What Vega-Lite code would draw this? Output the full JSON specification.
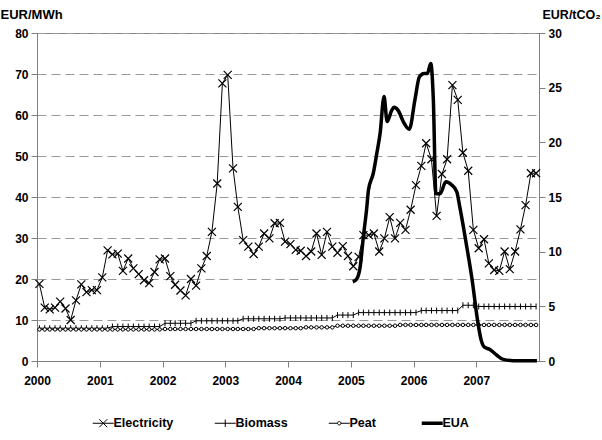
{
  "$schema": "https://vega.github.io/schema/vega-lite/v6.json",
  "width": 502,
  "height": 328,
  "autosize": "none",
  "padding": {"left": 37, "top": 33, "right": 63, "bottom": 79},
  "background": "white",
  "config": {
    "font": "Liberation Sans",
    "view": {"stroke": "#808080", "strokeWidth": 1},
    "axis": {
      "labelFont": "Liberation Sans", "labelFontWeight": "bold", "labelFontSize": 12, "labelColor": "black",
      "titleFont": "Liberation Sans", "titleFontWeight": "bold", "titleFontSize": 13, "titleColor": "black",
      "domainColor": "#808080", "tickColor": "#808080", "tickSize": 6
    }
  },
  "datasets": {
    "monthly": [
      {"date": "2000-01-15", "Electricity": 18.8, "Biomass": 8.0, "Peat": 7.7},
      {"date": "2000-02-15", "Electricity": 13.0, "Biomass": 8.0, "Peat": 7.7},
      {"date": "2000-03-15", "Electricity": 12.6, "Biomass": 8.0, "Peat": 7.7},
      {"date": "2000-04-15", "Electricity": 13.0, "Biomass": 8.0, "Peat": 7.7},
      {"date": "2000-05-15", "Electricity": 14.5, "Biomass": 8.0, "Peat": 7.7},
      {"date": "2000-06-15", "Electricity": 12.8, "Biomass": 8.0, "Peat": 7.7},
      {"date": "2000-07-15", "Electricity": 10.0, "Biomass": 8.0, "Peat": 7.7},
      {"date": "2000-08-15", "Electricity": 14.8, "Biomass": 8.0, "Peat": 7.7},
      {"date": "2000-09-15", "Electricity": 18.7, "Biomass": 8.0, "Peat": 7.7},
      {"date": "2000-10-15", "Electricity": 16.8, "Biomass": 8.0, "Peat": 7.7},
      {"date": "2000-11-15", "Electricity": 17.3, "Biomass": 8.0, "Peat": 7.7},
      {"date": "2000-12-15", "Electricity": 17.3, "Biomass": 8.0, "Peat": 7.7},
      {"date": "2001-01-15", "Electricity": 20.4, "Biomass": 8.0, "Peat": 7.7},
      {"date": "2001-02-15", "Electricity": 27.0, "Biomass": 8.0, "Peat": 7.7},
      {"date": "2001-03-15", "Electricity": 26.0, "Biomass": 8.4, "Peat": 7.7},
      {"date": "2001-04-15", "Electricity": 26.2, "Biomass": 8.4, "Peat": 7.7},
      {"date": "2001-05-15", "Electricity": 22.0, "Biomass": 8.4, "Peat": 7.7},
      {"date": "2001-06-15", "Electricity": 25.0, "Biomass": 8.4, "Peat": 7.7},
      {"date": "2001-07-15", "Electricity": 22.6, "Biomass": 8.4, "Peat": 7.7},
      {"date": "2001-08-15", "Electricity": 21.2, "Biomass": 8.4, "Peat": 7.7},
      {"date": "2001-09-15", "Electricity": 19.7, "Biomass": 8.4, "Peat": 7.7},
      {"date": "2001-10-15", "Electricity": 19.0, "Biomass": 8.4, "Peat": 7.7},
      {"date": "2001-11-15", "Electricity": 21.7, "Biomass": 8.4, "Peat": 7.7},
      {"date": "2001-12-15", "Electricity": 24.8, "Biomass": 8.4, "Peat": 7.7},
      {"date": "2002-01-15", "Electricity": 25.0, "Biomass": 9.2, "Peat": 7.8},
      {"date": "2002-02-15", "Electricity": 20.7, "Biomass": 9.2, "Peat": 7.8},
      {"date": "2002-03-15", "Electricity": 18.6, "Biomass": 9.2, "Peat": 7.8},
      {"date": "2002-04-15", "Electricity": 17.2, "Biomass": 9.2, "Peat": 7.8},
      {"date": "2002-05-15", "Electricity": 16.0, "Biomass": 9.2, "Peat": 7.8},
      {"date": "2002-06-15", "Electricity": 20.0, "Biomass": 9.2, "Peat": 7.8},
      {"date": "2002-07-15", "Electricity": 18.4, "Biomass": 9.8, "Peat": 7.8},
      {"date": "2002-08-15", "Electricity": 22.6, "Biomass": 9.8, "Peat": 7.8},
      {"date": "2002-09-15", "Electricity": 25.6, "Biomass": 9.8, "Peat": 7.8},
      {"date": "2002-10-15", "Electricity": 31.5, "Biomass": 9.8, "Peat": 7.8},
      {"date": "2002-11-15", "Electricity": 43.3, "Biomass": 9.8, "Peat": 7.8},
      {"date": "2002-12-15", "Electricity": 67.7, "Biomass": 9.8, "Peat": 7.8},
      {"date": "2003-01-15", "Electricity": 69.8, "Biomass": 9.8, "Peat": 7.8},
      {"date": "2003-02-15", "Electricity": 47.0, "Biomass": 9.8, "Peat": 7.8},
      {"date": "2003-03-15", "Electricity": 37.6, "Biomass": 9.8, "Peat": 7.8},
      {"date": "2003-04-15", "Electricity": 29.5, "Biomass": 10.3, "Peat": 7.8},
      {"date": "2003-05-15", "Electricity": 27.9, "Biomass": 10.3, "Peat": 7.8},
      {"date": "2003-06-15", "Electricity": 26.1, "Biomass": 10.3, "Peat": 7.8},
      {"date": "2003-07-15", "Electricity": 27.9, "Biomass": 10.3, "Peat": 8.0},
      {"date": "2003-08-15", "Electricity": 31.1, "Biomass": 10.3, "Peat": 8.0},
      {"date": "2003-09-15", "Electricity": 29.9, "Biomass": 10.3, "Peat": 8.0},
      {"date": "2003-10-15", "Electricity": 33.6, "Biomass": 10.3, "Peat": 8.0},
      {"date": "2003-11-15", "Electricity": 33.7, "Biomass": 10.3, "Peat": 8.0},
      {"date": "2003-12-15", "Electricity": 29.1, "Biomass": 10.5, "Peat": 8.0},
      {"date": "2004-01-15", "Electricity": 28.5, "Biomass": 10.5, "Peat": 8.0},
      {"date": "2004-02-15", "Electricity": 27.1, "Biomass": 10.5, "Peat": 8.0},
      {"date": "2004-03-15", "Electricity": 26.9, "Biomass": 10.5, "Peat": 8.0},
      {"date": "2004-04-15", "Electricity": 25.6, "Biomass": 10.5, "Peat": 8.2},
      {"date": "2004-05-15", "Electricity": 26.7, "Biomass": 10.5, "Peat": 8.2},
      {"date": "2004-06-15", "Electricity": 31.1, "Biomass": 10.5, "Peat": 8.2},
      {"date": "2004-07-15", "Electricity": 25.9, "Biomass": 10.5, "Peat": 8.2},
      {"date": "2004-08-15", "Electricity": 31.5, "Biomass": 10.5, "Peat": 8.2},
      {"date": "2004-09-15", "Electricity": 27.9, "Biomass": 10.5, "Peat": 8.2},
      {"date": "2004-10-15", "Electricity": 26.4, "Biomass": 11.2, "Peat": 8.6},
      {"date": "2004-11-15", "Electricity": 28.0, "Biomass": 11.2, "Peat": 8.6},
      {"date": "2004-12-15", "Electricity": 25.6, "Biomass": 11.2, "Peat": 8.6},
      {"date": "2005-01-15", "Electricity": 23.1, "Biomass": 11.2, "Peat": 8.6},
      {"date": "2005-02-15", "Electricity": 25.4, "Biomass": 11.8, "Peat": 8.6},
      {"date": "2005-03-15", "Electricity": 30.7, "Biomass": 11.8, "Peat": 8.6},
      {"date": "2005-04-15", "Electricity": 30.7, "Biomass": 11.8, "Peat": 8.6},
      {"date": "2005-05-15", "Electricity": 31.1, "Biomass": 11.8, "Peat": 8.6},
      {"date": "2005-06-15", "Electricity": 26.7, "Biomass": 11.8, "Peat": 8.6},
      {"date": "2005-07-15", "Electricity": 29.9, "Biomass": 11.8, "Peat": 8.6},
      {"date": "2005-08-15", "Electricity": 35.1, "Biomass": 11.8, "Peat": 8.6},
      {"date": "2005-09-15", "Electricity": 29.9, "Biomass": 11.8, "Peat": 8.6},
      {"date": "2005-10-15", "Electricity": 33.7, "Biomass": 11.8, "Peat": 8.8},
      {"date": "2005-11-15", "Electricity": 32.0, "Biomass": 11.8, "Peat": 8.8},
      {"date": "2005-12-15", "Electricity": 36.9, "Biomass": 11.8, "Peat": 8.8},
      {"date": "2006-01-15", "Electricity": 42.9, "Biomass": 11.8, "Peat": 8.8},
      {"date": "2006-02-15", "Electricity": 47.6, "Biomass": 12.3, "Peat": 8.8},
      {"date": "2006-03-15", "Electricity": 53.1, "Biomass": 12.3, "Peat": 8.8},
      {"date": "2006-04-15", "Electricity": 49.2, "Biomass": 12.3, "Peat": 8.8},
      {"date": "2006-05-15", "Electricity": 35.4, "Biomass": 12.3, "Peat": 8.8},
      {"date": "2006-06-15", "Electricity": 45.6, "Biomass": 12.3, "Peat": 8.8},
      {"date": "2006-07-15", "Electricity": 49.2, "Biomass": 12.3, "Peat": 8.8},
      {"date": "2006-08-15", "Electricity": 67.3, "Biomass": 12.3, "Peat": 8.8},
      {"date": "2006-09-15", "Electricity": 63.7, "Biomass": 12.3, "Peat": 8.8},
      {"date": "2006-10-15", "Electricity": 50.8, "Biomass": 13.6, "Peat": 8.8},
      {"date": "2006-11-15", "Electricity": 46.4, "Biomass": 13.6, "Peat": 8.8},
      {"date": "2006-12-15", "Electricity": 32.0, "Biomass": 13.6, "Peat": 8.8},
      {"date": "2007-01-15", "Electricity": 27.5, "Biomass": 13.3, "Peat": 8.8},
      {"date": "2007-02-15", "Electricity": 29.7, "Biomass": 13.3, "Peat": 8.8},
      {"date": "2007-03-15", "Electricity": 23.8, "Biomass": 13.3, "Peat": 8.8},
      {"date": "2007-04-15", "Electricity": 22.2, "Biomass": 13.3, "Peat": 8.8},
      {"date": "2007-05-15", "Electricity": 22.0, "Biomass": 13.3, "Peat": 8.8},
      {"date": "2007-06-15", "Electricity": 26.7, "Biomass": 13.3, "Peat": 8.8},
      {"date": "2007-07-15", "Electricity": 22.4, "Biomass": 13.3, "Peat": 8.8},
      {"date": "2007-08-15", "Electricity": 26.7, "Biomass": 13.3, "Peat": 8.8},
      {"date": "2007-09-15", "Electricity": 32.1, "Biomass": 13.3, "Peat": 8.8},
      {"date": "2007-10-15", "Electricity": 38.0, "Biomass": 13.3, "Peat": 8.8},
      {"date": "2007-11-15", "Electricity": 45.8, "Biomass": 13.3, "Peat": 8.8},
      {"date": "2007-12-15", "Electricity": 45.8, "Biomass": 13.3, "Peat": 8.8}
    ],
    "eua": [
      {"date": "2005-01-12", "EUA": 7.25},
      {"date": "2005-02-04", "EUA": 7.5},
      {"date": "2005-02-24", "EUA": 8.6},
      {"date": "2005-03-15", "EUA": 11.4},
      {"date": "2005-04-04", "EUA": 14.1},
      {"date": "2005-04-13", "EUA": 15.6},
      {"date": "2005-05-12", "EUA": 17.2},
      {"date": "2005-06-01", "EUA": 19.0},
      {"date": "2005-06-20", "EUA": 20.8},
      {"date": "2005-07-13", "EUA": 24.2},
      {"date": "2005-07-31", "EUA": 21.9},
      {"date": "2005-08-26", "EUA": 22.9},
      {"date": "2005-09-09", "EUA": 23.2},
      {"date": "2005-10-04", "EUA": 22.9},
      {"date": "2005-11-02", "EUA": 21.9},
      {"date": "2005-12-07", "EUA": 21.2},
      {"date": "2006-01-09", "EUA": 23.9},
      {"date": "2006-02-04", "EUA": 26.0},
      {"date": "2006-03-03", "EUA": 26.3},
      {"date": "2006-03-22", "EUA": 26.3},
      {"date": "2006-04-11", "EUA": 27.2},
      {"date": "2006-04-26", "EUA": 23.9},
      {"date": "2006-05-11", "EUA": 15.3},
      {"date": "2006-06-04", "EUA": 15.3},
      {"date": "2006-07-08", "EUA": 16.4},
      {"date": "2006-08-11", "EUA": 16.1},
      {"date": "2006-09-09", "EUA": 15.5},
      {"date": "2006-09-28", "EUA": 14.0},
      {"date": "2006-11-06", "EUA": 10.5},
      {"date": "2006-12-07", "EUA": 7.5},
      {"date": "2007-01-08", "EUA": 3.75},
      {"date": "2007-01-28", "EUA": 2.0},
      {"date": "2007-02-15", "EUA": 1.3},
      {"date": "2007-03-21", "EUA": 1.05},
      {"date": "2007-04-29", "EUA": 0.55},
      {"date": "2007-06-07", "EUA": 0.15},
      {"date": "2007-08-04", "EUA": 0.03},
      {"date": "2007-12-20", "EUA": 0.03}
    ]
  },
  "layer": [
    {
      "data": {"name": "monthly"},
      "transform": [{"fold": ["Electricity", "Biomass", "Peat"], "as": ["series", "value"]}],
      "encoding": {
        "x": {
          "field": "date", "type": "temporal",
          "scale": {"type": "utc", "domain": [{"year": 2000, "month": 1, "date": 1, "utc": true}, {"year": 2008, "month": 1, "date": 1, "utc": true}]},
          "axis": {
            "title": null, "format": "%Y", "grid": false, "labelPadding": 8, "labelAlign": "center",
            "values": [{"year": 2000, "utc": true}, {"year": 2001, "utc": true}, {"year": 2002, "utc": true}, {"year": 2003, "utc": true}, {"year": 2004, "utc": true}, {"year": 2005, "utc": true}, {"year": 2006, "utc": true}, {"year": 2007, "utc": true}]
          }
        },
        "y": {
          "field": "value", "type": "quantitative",
          "scale": {"domain": [0, 80], "nice": false},
          "axis": {
            "title": "EUR/MWh", "titleAngle": 0, "titleAlign": "left", "titleBaseline": "bottom", "titleX": -37, "titleY": -12,
            "values": [0, 10, 20, 30, 40, 50, 60, 70, 80], "grid": true, "gridDash": [9, 5], "gridColor": "#999999", "labelPadding": 3
          }
        }
      },
      "layer": [
        {
          "mark": {"type": "line", "strokeWidth": 1},
          "encoding": {
            "color": {
              "field": "series", "type": "nominal",
              "scale": {"domain": ["Electricity", "Biomass", "Peat", "EUA"], "range": ["black", "black", "black", "black"]},
              "legend": {
                "title": null, "orient": "none", "legendX": 60, "legendY": 384, "direction": "horizontal",
                "labelFont": "Liberation Sans", "labelFontWeight": "bold", "labelFontSize": 12.5, "labelColor": "black",
                "symbolSize": 441, "labelOffset": 4, "columnPadding": 38, "gridAlign": "none", "padding": 0,
                "encode": {
                  "symbols": {
                    "update": {
                      "shape": {"signal": "datum.value === 'Electricity' ? 'M-1,0H1M-0.38,-0.38L0.38,0.38M-0.38,0.38L0.38,-0.38' : datum.value === 'Biomass' ? 'M-1,0H1M0,-0.35V0.35' : datum.value === 'Peat' ? 'M-1,0H-0.16M0.16,0H1M-0.16,0A0.16,0.16 0 1,0 0.16,0A0.16,0.16 0 1,0 -0.16,0' : 'M-1,0H1'"},
                      "strokeWidth": {"signal": "datum.value === 'EUA' ? 3.5 : 1"},
                      "stroke": {"value": "black"},
                      "fill": {"value": "white"},
                      "opacity": {"value": 1}
                    }
                  }
                }
              }
            }
          }
        },
        {
          "transform": [{"filter": "datum.series === 'Electricity'"}],
          "mark": {"type": "point", "shape": "M-1,-1L1,1M-1,1L1,-1", "size": 64, "filled": false, "color": "black", "strokeWidth": 1.2, "opacity": 1}
        },
        {
          "transform": [{"filter": "datum.series === 'Biomass'"}],
          "mark": {"type": "point", "shape": "M0,-1V1", "size": 36, "filled": false, "color": "black", "strokeWidth": 1, "opacity": 1}
        },
        {
          "transform": [{"filter": "datum.series === 'Peat'"}],
          "mark": {"type": "point", "shape": "circle", "size": 12, "filled": true, "fill": "white", "stroke": "black", "strokeWidth": 1, "opacity": 1}
        }
      ]
    },
    {
      "data": {"name": "eua"},
      "transform": [{"fold": ["EUA"], "as": ["series", "value"]}],
      "mark": {"type": "line", "strokeWidth": 3.5, "interpolate": "monotone", "strokeJoin": "round"},
      "encoding": {
        "x": {
          "field": "date", "type": "temporal",
          "scale": {"type": "utc", "domain": [{"year": 2000, "month": 1, "date": 1, "utc": true}, {"year": 2008, "month": 1, "date": 1, "utc": true}]},
          "axis": {
            "title": null, "format": "%Y", "grid": false, "labelPadding": 8, "labelAlign": "center",
            "values": [{"year": 2000, "utc": true}, {"year": 2001, "utc": true}, {"year": 2002, "utc": true}, {"year": 2003, "utc": true}, {"year": 2004, "utc": true}, {"year": 2005, "utc": true}, {"year": 2006, "utc": true}, {"year": 2007, "utc": true}]
          }
        },
        "y": {
          "field": "value", "type": "quantitative",
          "scale": {"domain": [0, 30], "nice": false},
          "axis": {
            "orient": "right", "title": "EUR/tCO₂", "titleAngle": 0, "titleAlign": "left", "titleBaseline": "bottom", "titleX": 3, "titleY": -12, "titleFontSize": 12.5,
            "values": [0, 5, 10, 15, 20, 25, 30], "grid": false, "labelPadding": 3
          }
        },
        "color": {
          "field": "series", "type": "nominal",
          "scale": {"domain": ["Electricity", "Biomass", "Peat", "EUA"], "range": ["black", "black", "black", "black"]}
        }
      }
    }
  ],
  "resolve": {"scale": {"y": "independent"}}
}
